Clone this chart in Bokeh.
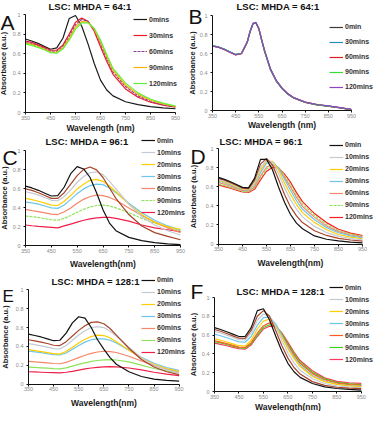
from bokeh.plotting import figure
from bokeh.models import Legend, LegendItem, Label, FixedTicker, Range1d
from bokeh.layouts import gridplot
from bokeh.embed import file_html
from bokeh.resources import INLINE

# ---------------- data (absorbance) ----------------
WL = [350, 375, 400, 425, 450, 475, 500, 525, 550, 575, 600, 625, 650, 675, 700, 750, 800, 850, 900, 950]
WL_B = [350, 375, 400, 425, 450, 475, 500, 512, 525, 537, 550, 562, 575, 600, 625, 650, 675, 700, 750, 800, 850, 900, 950]
X_TICKS = [350, 450, 550, 650, 750, 850, 950]
Y_TICKS = [0, 0.2, 0.4, 0.6, 0.8, 1]

A_0 = [0.750, 0.730, 0.705, 0.675, 0.645, 0.660, 0.760, 0.960, 0.990, 0.880, 0.700, 0.500, 0.330, 0.230, 0.170, 0.110, 0.080, 0.060, 0.048, 0.038]
A_30 = [0.730, 0.715, 0.690, 0.665, 0.635, 0.635, 0.690, 0.800, 0.920, 0.965, 0.930, 0.830, 0.670, 0.520, 0.390, 0.240, 0.155, 0.105, 0.075, 0.055]
A_60 = [0.720, 0.705, 0.680, 0.655, 0.625, 0.625, 0.675, 0.775, 0.895, 0.950, 0.930, 0.845, 0.700, 0.550, 0.415, 0.265, 0.170, 0.115, 0.080, 0.058]
A_90 = [0.710, 0.695, 0.672, 0.647, 0.617, 0.615, 0.662, 0.757, 0.872, 0.930, 0.920, 0.850, 0.720, 0.570, 0.430, 0.280, 0.185, 0.125, 0.088, 0.062]
A_120 = [0.700, 0.685, 0.665, 0.640, 0.610, 0.605, 0.650, 0.740, 0.850, 0.915, 0.915, 0.860, 0.740, 0.590, 0.450, 0.300, 0.200, 0.135, 0.095, 0.065]
A_LABELS = ["0mins", "30mins", "60mins", "90mins", "120mins"]

B_0 = [0.680, 0.668, 0.645, 0.615, 0.588, 0.600, 0.720, 0.830, 0.915, 0.925, 0.860, 0.740, 0.620, 0.430, 0.310, 0.230, 0.172, 0.132, 0.086, 0.060, 0.045, 0.028, 0.008]
B_30 = [0.682, 0.670, 0.647, 0.617, 0.590, 0.602, 0.722, 0.833, 0.918, 0.928, 0.864, 0.744, 0.624, 0.434, 0.313, 0.232, 0.174, 0.133, 0.087, 0.061, 0.046, 0.029, 0.009]
B_60 = [0.678, 0.666, 0.643, 0.613, 0.586, 0.598, 0.718, 0.828, 0.913, 0.924, 0.862, 0.746, 0.628, 0.438, 0.316, 0.235, 0.176, 0.135, 0.088, 0.062, 0.047, 0.030, 0.010]
B_90 = [0.681, 0.669, 0.646, 0.616, 0.589, 0.601, 0.721, 0.831, 0.916, 0.926, 0.863, 0.745, 0.626, 0.436, 0.315, 0.233, 0.175, 0.134, 0.087, 0.061, 0.046, 0.029, 0.009]
B_120 = [0.679, 0.667, 0.644, 0.614, 0.587, 0.599, 0.719, 0.829, 0.914, 0.925, 0.865, 0.748, 0.630, 0.440, 0.318, 0.237, 0.178, 0.136, 0.089, 0.063, 0.048, 0.031, 0.011]
B_LABELS = ["0min", "30mins", "60mins", "90mins", "120mins"]

C_0 = [0.630, 0.610, 0.585, 0.555, 0.525, 0.530, 0.620, 0.760, 0.835, 0.810, 0.720, 0.560, 0.380, 0.240, 0.160, 0.090, 0.055, 0.035, 0.022, 0.013]
C_5 = [0.600, 0.585, 0.560, 0.530, 0.500, 0.500, 0.560, 0.650, 0.740, 0.805, 0.830, 0.800, 0.720, 0.610, 0.500, 0.330, 0.210, 0.140, 0.100, 0.065]
C_10 = [0.570, 0.555, 0.535, 0.510, 0.480, 0.475, 0.520, 0.590, 0.670, 0.730, 0.770, 0.780, 0.750, 0.680, 0.600, 0.440, 0.310, 0.220, 0.160, 0.115]
C_20 = [0.500, 0.487, 0.470, 0.450, 0.430, 0.425, 0.470, 0.530, 0.600, 0.650, 0.690, 0.700, 0.680, 0.630, 0.570, 0.440, 0.330, 0.250, 0.200, 0.175]
C_30 = [0.460, 0.452, 0.440, 0.420, 0.400, 0.395, 0.430, 0.490, 0.550, 0.600, 0.635, 0.650, 0.645, 0.610, 0.560, 0.450, 0.350, 0.270, 0.210, 0.170]
C_60 = [0.385, 0.372, 0.360, 0.347, 0.335, 0.330, 0.360, 0.400, 0.450, 0.490, 0.520, 0.535, 0.530, 0.510, 0.480, 0.400, 0.320, 0.250, 0.190, 0.140]
C_90 = [0.315, 0.307, 0.300, 0.287, 0.275, 0.270, 0.290, 0.320, 0.355, 0.385, 0.410, 0.425, 0.430, 0.420, 0.400, 0.350, 0.290, 0.240, 0.200, 0.160]
C_120 = [0.220, 0.212, 0.205, 0.200, 0.195, 0.190, 0.210, 0.230, 0.250, 0.270, 0.285, 0.295, 0.300, 0.300, 0.290, 0.260, 0.220, 0.190, 0.170, 0.150]

D_0 = [0.700, 0.680, 0.655, 0.625, 0.595, 0.590, 0.690, 0.890, 0.890, 0.780, 0.600, 0.440, 0.310, 0.220, 0.160, 0.085, 0.050, 0.032, 0.020, 0.012]
D_5 = [0.690, 0.670, 0.645, 0.617, 0.588, 0.582, 0.670, 0.840, 0.900, 0.830, 0.680, 0.520, 0.390, 0.295, 0.225, 0.140, 0.090, 0.060, 0.042, 0.030]
D_10 = [0.680, 0.660, 0.637, 0.610, 0.582, 0.577, 0.650, 0.800, 0.885, 0.860, 0.740, 0.590, 0.465, 0.365, 0.285, 0.185, 0.120, 0.080, 0.058, 0.044]
D_20 = [0.670, 0.651, 0.629, 0.603, 0.577, 0.572, 0.635, 0.775, 0.870, 0.870, 0.780, 0.640, 0.520, 0.415, 0.330, 0.225, 0.150, 0.100, 0.072, 0.055]
D_30 = [0.660, 0.642, 0.621, 0.596, 0.572, 0.567, 0.620, 0.750, 0.850, 0.865, 0.800, 0.680, 0.565, 0.455, 0.365, 0.255, 0.172, 0.118, 0.085, 0.064]
D_60 = [0.645, 0.628, 0.608, 0.585, 0.563, 0.558, 0.600, 0.715, 0.810, 0.835, 0.800, 0.700, 0.600, 0.490, 0.395, 0.280, 0.190, 0.130, 0.095, 0.072]
D_90 = [0.630, 0.614, 0.595, 0.574, 0.554, 0.549, 0.588, 0.695, 0.790, 0.825, 0.805, 0.720, 0.625, 0.515, 0.420, 0.300, 0.205, 0.142, 0.105, 0.080]
D_120 = [0.620, 0.604, 0.586, 0.566, 0.547, 0.542, 0.575, 0.675, 0.765, 0.805, 0.800, 0.735, 0.650, 0.540, 0.445, 0.320, 0.225, 0.155, 0.115, 0.088]

E_0 = [0.530, 0.515, 0.500, 0.480, 0.460, 0.465, 0.540, 0.650, 0.715, 0.700, 0.600, 0.470, 0.370, 0.280, 0.210, 0.130, 0.080, 0.052, 0.038, 0.030]
E_5 = [0.470, 0.458, 0.445, 0.430, 0.412, 0.408, 0.450, 0.510, 0.570, 0.620, 0.655, 0.660, 0.640, 0.590, 0.520, 0.380, 0.260, 0.180, 0.130, 0.100]
E_10 = [0.430, 0.419, 0.405, 0.391, 0.376, 0.372, 0.410, 0.465, 0.520, 0.565, 0.600, 0.610, 0.600, 0.560, 0.510, 0.390, 0.280, 0.200, 0.150, 0.120]
E_20 = [0.365, 0.355, 0.345, 0.333, 0.322, 0.318, 0.345, 0.390, 0.435, 0.475, 0.505, 0.520, 0.515, 0.490, 0.450, 0.360, 0.275, 0.210, 0.165, 0.135]
E_30 = [0.350, 0.342, 0.333, 0.322, 0.312, 0.308, 0.330, 0.370, 0.410, 0.445, 0.470, 0.480, 0.480, 0.465, 0.435, 0.360, 0.285, 0.220, 0.175, 0.145]
E_60 = [0.240, 0.235, 0.230, 0.224, 0.218, 0.215, 0.230, 0.255, 0.280, 0.305, 0.325, 0.340, 0.348, 0.345, 0.335, 0.295, 0.245, 0.195, 0.155, 0.125]
E_90 = [0.180, 0.176, 0.172, 0.168, 0.163, 0.160, 0.172, 0.190, 0.208, 0.225, 0.240, 0.250, 0.257, 0.258, 0.255, 0.235, 0.200, 0.165, 0.140, 0.120]
E_120 = [0.130, 0.128, 0.125, 0.122, 0.120, 0.118, 0.125, 0.135, 0.148, 0.160, 0.170, 0.177, 0.182, 0.185, 0.183, 0.170, 0.150, 0.125, 0.105, 0.090]

F_0 = [0.680, 0.660, 0.635, 0.610, 0.585, 0.585, 0.680, 0.860, 0.880, 0.760, 0.590, 0.430, 0.300, 0.210, 0.150, 0.085, 0.050, 0.032, 0.022, 0.015]
F_5 = [0.660, 0.641, 0.617, 0.592, 0.567, 0.565, 0.650, 0.800, 0.860, 0.800, 0.650, 0.490, 0.355, 0.255, 0.185, 0.105, 0.065, 0.045, 0.035, 0.030]
F_10 = [0.640, 0.622, 0.600, 0.576, 0.552, 0.548, 0.620, 0.755, 0.825, 0.800, 0.690, 0.545, 0.410, 0.305, 0.225, 0.135, 0.085, 0.060, 0.048, 0.042]
F_20 = [0.560, 0.545, 0.527, 0.507, 0.487, 0.483, 0.545, 0.665, 0.750, 0.770, 0.700, 0.580, 0.455, 0.350, 0.265, 0.160, 0.105, 0.075, 0.060, 0.052]
F_30 = [0.610, 0.593, 0.572, 0.550, 0.528, 0.524, 0.585, 0.705, 0.785, 0.790, 0.720, 0.600, 0.470, 0.365, 0.280, 0.170, 0.112, 0.080, 0.064, 0.056]
F_60 = [0.540, 0.526, 0.509, 0.490, 0.472, 0.468, 0.520, 0.620, 0.700, 0.730, 0.700, 0.610, 0.495, 0.390, 0.300, 0.190, 0.125, 0.090, 0.074, 0.066]
F_90 = [0.530, 0.516, 0.500, 0.482, 0.465, 0.460, 0.508, 0.600, 0.680, 0.710, 0.695, 0.620, 0.510, 0.405, 0.315, 0.205, 0.135, 0.098, 0.082, 0.074]
F_120 = [0.515, 0.502, 0.487, 0.470, 0.455, 0.450, 0.495, 0.585, 0.665, 0.695, 0.690, 0.625, 0.525, 0.420, 0.330, 0.220, 0.145, 0.107, 0.092, 0.086]

T_LABELS = ["0min", "10mins", "20mins", "30mins", "60mins", "90mins", "120mins"]

FONT = "Liberation Sans"


def panel(letter, title, xlabel, xs, series, size, frame, lab, leg, tpos, lpos, lsize):
    # frame = pixel positions (left, right, y=1, y=0) of the axes inside the figure
    W, H = size
    fl, fr, f1, f0 = frame
    xpp = (X_TICKS[-1] - X_TICKS[0]) / (fr - fl)
    ypp = 1.0 / (f0 - f1)
    p = figure(frame_width=W, frame_height=H,
               x_range=Range1d(X_TICKS[0] - fl * xpp, X_TICKS[-1] + (W - fr) * xpp),
               y_range=Range1d(-(H - f0) * ypp, 1 + f1 * ypp),
               output_backend="svg", toolbar_location=None,
               min_border_left=0, min_border_right=0, min_border_top=0, min_border_bottom=0)
    p.title.visible = False
    p.outline_line_color = None
    p.grid.visible = False
    p.background_fill_color = "white"
    for ax in (p.xaxis[0], p.yaxis[0]):
        ax.axis_line_color = "#111111"
        ax.axis_line_width = 1
        ax.major_tick_line_color = "#111111"
        ax.major_tick_out = 2
        ax.major_tick_in = 0
        ax.minor_tick_out = 0
        ax.minor_tick_in = 0
        ax.major_label_text_font = FONT
        ax.major_label_text_font_size = "5.5px"
        ax.major_label_text_color = "#8a8a8a"
        ax.axis_label_text_font = FONT
        ax.axis_label_text_font_style = "bold"
        ax.axis_label_text_color = "#1a1a1a"
    p.xaxis.ticker = FixedTicker(ticks=X_TICKS)
    p.xaxis.bounds = (X_TICKS[0], X_TICKS[-1])
    p.xaxis.fixed_location = 0
    p.xaxis.major_label_standoff = 1
    p.xaxis.axis_label = xlabel
    p.xaxis.axis_label_text_font_size = "8.5px"
    p.xaxis.axis_label_standoff = lab[0]
    p.yaxis.ticker = FixedTicker(ticks=Y_TICKS)
    p.yaxis.bounds = (Y_TICKS[0], Y_TICKS[-1])
    p.yaxis.fixed_location = X_TICKS[0]
    p.yaxis.major_label_overrides = {0: "0", 0.2: "0.2", 0.4: "0.4", 0.6: "0.6", 0.8: "0.8", 1: "1"}
    p.yaxis.major_label_standoff = 3
    p.yaxis.axis_label = "Absorbance (a.u.)"
    p.yaxis.axis_label_text_font_size = "7.5px"
    p.yaxis.axis_label_standoff = lab[1]

    items = []
    for ys, color, dash, name in series:
        r = p.line(xs, ys, line_color=color, line_width=1.2, line_dash=dash)
        if name:
            items.append((name, r))
    vx, vy, gh, sp = leg
    legend = Legend(items=[LegendItem(label=n, renderers=[r]) for n, r in items],
                    location=(vx, vy), glyph_width=14, glyph_height=gh, label_height=gh,
                    spacing=sp, padding=0, margin=0, label_standoff=2,
                    border_line_color=None, background_fill_alpha=0,
                    label_text_font=FONT, label_text_font_size="7px",
                    label_text_font_style="bold", label_text_color="#333333")
    p.add_layout(legend)
    p.add_layout(Label(x=tpos[0], y=H - tpos[1], x_units="screen", y_units="screen", text=title,
                       text_font=FONT, text_font_size="9.5px", text_font_style="bold",
                       text_color="#111111", text_align="left", text_baseline="middle"))
    p.add_layout(Label(x=lpos[0], y=H - lpos[1], x_units="screen", y_units="screen", text=letter,
                       text_font=FONT, text_font_size=lsize, text_color="#111111",
                       text_align="left", text_baseline="alphabetic"))
    return p


def tseries(d0, d5, d10, d20, d30, d60, d90, d120, c60, c90, c120, dash90):
    return [(d120, c120, "solid", T_LABELS[6]), (d90, c90, dash90, T_LABELS[5]),
            (d60, c60, "solid", T_LABELS[4]), (d30, "#6cc6ec", "solid", T_LABELS[3]),
            (d20, "#ffcc00", "solid", T_LABELS[2]), (d10, "#c3cad3", "solid", T_LABELS[1]),
            (d5, "#a8442a", "solid", None), (d0, "#111111", "solid", T_LABELS[0])]


def reorder(p):
    leg = p.legend[0]
    leg.items = list(reversed(leg.items))
    return p


pA = panel("A", "LSC: MHDA = 64:1", "Wavelength (nm)", WL,
           [(A_0, "#1a1a1a", "solid", A_LABELS[0]), (A_30, "#ed1c24", "solid", A_LABELS[1]),
            (A_60, "#8a3f9a", "3 1", A_LABELS[2]), (A_90, "#ffb000", "solid", A_LABELS[3]),
            (A_120, "#5cf038", "solid", A_LABELS[4])],
           (188, 135), (25, 175, 14, 112), (0, 2), (133, 45.8, 12, 4), (48, 6), (0, 22), "21px")

pB = panel("B", "LSC: MHDA = 64:1", "Wavelength (nm)", WL_B,
           [(B_0, "#3a3a3a", "solid", B_LABELS[0]), (B_30, "#2b8cbe", "solid", B_LABELS[1]),
            (B_60, "#e31a1c", "solid", B_LABELS[2]), (B_90, "#33dd33", "solid", B_LABELS[3]),
            (B_120, "#8e44c8", "solid", B_LABELS[4])],
           (188, 135), (24, 163, 15, 110), (-1, 0), (141, 42.4, 12, 3), (48, 6.4), (0, 16.3), "21px")

pC = reorder(panel("C", "LSC: MHDA =  96:1", "Wavelength(nm)", WL,
                   tseries(C_0, C_5, C_10, C_20, C_30, C_60, C_90, C_120, "#f4866a", "#8fe35a", "#ef1f4a", "3 1"),
                   (188, 140), (25, 180, 15.4, 110.4), (3, 1), (141, 57, 12, 0), (45, 6), (2, 22), "21px"))

pD = reorder(panel("D", "LSC: MHDA =  96:1", "Wavelength(nm)", WL,
                   tseries(D_0, D_5, D_10, D_20, D_30, D_60, D_90, D_120, "#f4866a", "#8fe35a", "#ff1a1a", "3 1"),
                   (188, 140), (30, 174, 13.4, 108.5), (3, 5), (141, 52.4, 12, 0), (31, 6), (2, 21), "21px"))

pE = reorder(panel("E", "LSC: MHDA =  128:1", "Wavelength(nm)", WL,
                   tseries(E_0, E_5, E_10, E_20, E_30, E_60, E_90, E_120, "#f4866a", "#8fe35a", "#ef1f4a", "solid"),
                   (188, 136), (28, 178.6, 14.4, 108.5), (3, 3), (141, 53.5, 12, 0), (51, 6.4), (2, 21), "17px"))

pF = reorder(panel("F", "LSC: MHDA = 128:1", "Wavelength(nm)", WL,
                   tseries(F_0, F_5, F_10, F_20, F_30, F_60, F_90, F_120, "#ff5a1f", "#44cc22", "#ff3a5a", "solid"),
                   (188, 136), (26, 172.8, 22, 116), (0, 1), (141, 46, 12, 0), (48, 16), (2, 16.3), "21px"))

grid = gridplot([[pA, pB], [pC, pD], [pE, pF]], toolbar_location=None)

open("out.html", "w").write(file_html(grid, INLINE))
